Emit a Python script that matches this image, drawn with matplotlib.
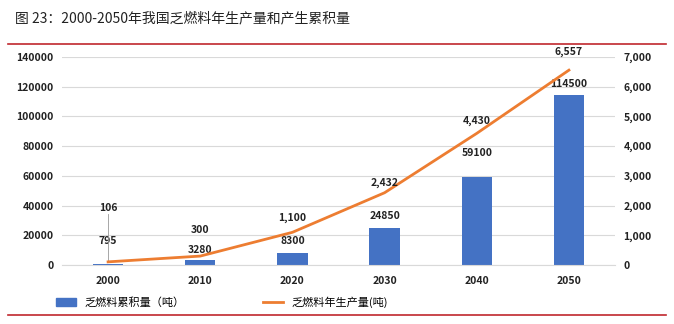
import matplotlib
matplotlib.use("Agg")
import matplotlib.pyplot as plt
from matplotlib.lines import Line2D
from matplotlib.patches import Patch
import numpy as np

plt.rcParams['font.family'] = ['Noto Sans CJK SC', 'DejaVu Sans']

years = ['2000', '2010', '2020', '2030', '2040', '2050']
cumulative = [795, 3280, 8300, 24850, 59100, 114500]
annual = [106, 300, 1100, 2432, 4430, 6557]
left_ticks = [0, 20000, 40000, 60000, 80000, 100000, 120000, 140000]
right_ticks = [0, 1000, 2000, 3000, 4000, 5000, 6000, 7000]
title = '图 23：2000-2050年我国乏燃料年生产量和产生累积量'
bar_label = '乏燃料累积量（吨）'
line_label = '乏燃料年生产量(吨)'

bar_color = '#4472C4'
line_color = '#ED7D31'
red = '#C0272D'

fig = plt.figure(figsize=(6.74, 3.24), dpi=100)
ax = fig.add_axes([62/674, 1-265/324, (615-62)/674, (265-57)/324])
ax2 = ax.twinx()

x = np.arange(len(years))
ax.bar(x, cumulative, width=0.33, color=bar_color, zorder=2)
ax.set_ylim(0, 140000)
ax.set_xlim(-0.5, len(years)-0.5)
ax.set_yticks(left_ticks)
ax.set_yticklabels([str(v) for v in left_ticks])
ax.grid(axis='y', color='#D9D9D9', linewidth=0.8, zorder=0)
ax.set_axisbelow(True)
ax.set_xticks(x)
ax.set_xticklabels(years)

ax2.plot(x, annual, color=line_color, linewidth=2, zorder=3)
ax2.set_ylim(0, 7000)
ax2.set_yticks(right_ticks)
ax2.set_yticklabels([f'{v:,}' for v in right_ticks])

for a in (ax, ax2):
    for s in a.spines.values():
        s.set_visible(False)
    a.tick_params(length=0, labelsize=7.5, colors='#222222')
    for lbl in a.get_xticklabels() + a.get_yticklabels():
        lbl.set_fontweight('bold')
ax.spines['bottom'].set_visible(True)
ax.spines['bottom'].set_color('#D9D9D9')
ax.tick_params(axis='x', pad=8)
ax.tick_params(axis='y', pad=6)
ax2.tick_params(axis='y', pad=6)

# bar labels
bar_offsets = [13, 3.5, 5, 5, 13.5, 4.5]
for i, v in enumerate(cumulative):
    ax.annotate(f'{v}', (x[i], v), xytext=(0, bar_offsets[i]), textcoords='offset points',
                ha='center', va='bottom', fontsize=7.5, color='#222222', fontweight='bold')
# line labels
line_offsets = [35, 15, 7, 3.5, 5, 9.5]
for i, v in enumerate(annual):
    ax2.annotate(f'{v:,}', (x[i], v), xytext=(0, line_offsets[i]), textcoords='offset points',
                 ha='center', va='bottom', fontsize=7.5, color='#222222', fontweight='bold')
# leader line for 2000
ax2.plot([x[0], x[0]], [annual[0], annual[0] + 1600], color='#999999', linewidth=0.6, zorder=1)

fig.text(15/674, 1-18/324, title, fontsize=10, va='center', ha='left', color='#222222')
fig.add_artist(Line2D([8/674, 666/674], [1-44/324, 1-44/324], color=red, linewidth=1.2))
fig.add_artist(Line2D([8/674, 666/674], [1-315/324, 1-315/324], color=red, linewidth=1.2))

handles = [Patch(color=bar_color), Line2D([0], [0], color=line_color, linewidth=2)]
fig.legend(handles, [bar_label, line_label], loc='center', bbox_to_anchor=(222/674, 1-302/324),
           ncol=2, frameon=False, fontsize=8, columnspacing=7, handlelength=1.8)

fig.savefig('out.png', dpi=100)
